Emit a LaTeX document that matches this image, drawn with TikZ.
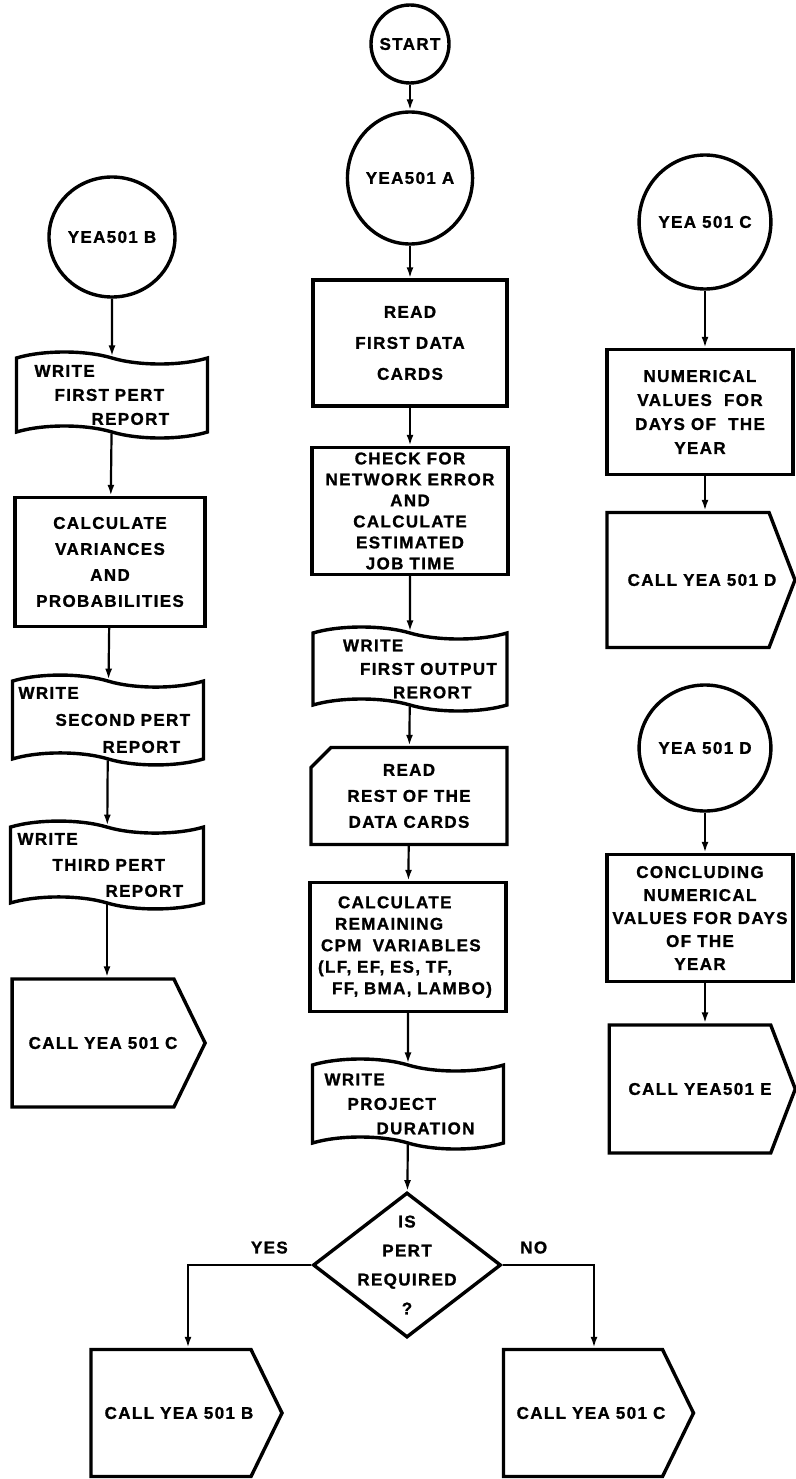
\documentclass[tikz,border=0pt]{standalone}
\usepackage{fontspec}
\setmainfont{Liberation Sans}[LetterSpace=8, BoldFeatures={FakeBold=1.2}]
\usetikzlibrary{arrows.meta,shapes.geometric,shapes.symbols,shapes.misc}
\tikzset{
  lines/.style={font=\fontsize{17}{#1}\selectfont\bfseries},
  shp/.style={draw, line width=3.4pt, inner sep=0pt, lines=26, align=center},
  term/.style={shp, ellipse},
  proc/.style={shp, rectangle},
  card/.style={shp, chamfered rectangle, chamfered rectangle corners=north west,
               chamfered rectangle xsep=9pt, chamfered rectangle ysep=11pt},
  ptape/.style={shp, tape, tape bend top=out and in, tape bend bottom=out and in,
                tape bend height=12pt, align=left},
  callbox/.style={shp, signal, signal to=east, signal pointer angle=128},
  calllbl/.style={lines=20},
  decision/.style={shp, diamond},
  flow/.style={line width=2.2pt, -{Latex[length=11pt,width=7pt]}},
  answer/.style={lines=20, above=7pt},
}
\begin{document}
\begin{tikzpicture}[x=1pt, y=-1pt]
  \useasboundingbox (0,0) rectangle (795,1479);
  \node[term, minimum size=78pt] (start) at (410,44) {\makebox[30pt]{START}};
  \node[term, minimum width=124pt, minimum height=132pt] (yeaA) at (410,178) {YEA501 A};
  \node[proc, minimum width=194pt, minimum height=126pt, lines=31] (read1) at (410,343)
    {READ\\FIRST DATA\\CARDS};
  \node[proc, minimum width=196pt, minimum height=127pt, lines=21] (check) at (410,511)
    {CHECK FOR\\NETWORK ERROR\\AND\\CALCULATE\\ESTIMATED\\JOB TIME};
  \node[ptape, minimum width=194pt, minimum height=84pt, text width=184pt, lines=23.5] (wrout) at (410,669)
    {\hspace*{25pt}WRITE\\\hspace*{42pt}FIRST OUTPUT\\\hspace*{75pt}RERORT};
  \node[card, minimum width=196pt, minimum height=97pt] (readrest) at (409,796)
    {READ\\REST OF THE\\DATA CARDS};
  \node[proc, minimum width=196pt, minimum height=129pt, text width=186pt, align=left, lines=21.5] (cpm) at (408,947)
    {\hspace*{23pt}CALCULATE\\\hspace*{20pt}REMAINING\\\hspace*{6pt}CPM\ \ VARIABLES\\
     \hspace*{3pt}(LF,\ EF,\ ES,\ TF,\\\hspace*{17pt}FF,\ BMA,\ LAMBO)};
  \node[ptape, minimum width=191pt, minimum height=90pt, text width=181pt, lines=24.5] (wrproj) at (408,1104)
    {\hspace*{7pt}WRITE\\\hspace*{30pt}PROJECT\\\hspace*{59pt}DURATION};
  \node[decision, minimum width=188pt, minimum height=145pt,
        label={[lines=29, align=center]center:IS\\PERT\\REQUIRED\\?}] (pert) at (407,1265) {};
  \node[callbox, minimum width=191pt, minimum height=127pt,
        label={[calllbl, xshift=8pt]center:CALL YEA 501 B}] (callB) at (171,1413) {};
  \node[callbox, minimum width=190pt, minimum height=127pt,
        label={[calllbl, xshift=8pt]center:CALL YEA 501 C}] (callC2) at (583,1413) {};

  \node[term, minimum width=126pt, minimum height=120pt] (yeaB) at (112,237) {YEA501 B};
  \node[ptape, minimum width=191pt, minimum height=86pt, text width=181pt, lines=24] (wr1) at (112,395)
    {\hspace*{13pt}WRITE\\\hspace*{33pt}FIRST PERT\\\hspace*{70pt}REPORT};
  \node[proc, minimum width=190pt, minimum height=129pt] (calcvar) at (110,562)
    {CALCULATE\\VARIANCES\\AND\\PROBABILITIES};
  \node[ptape, minimum width=191pt, minimum height=89pt, text width=181pt, lines=27] (wr2) at (108,720)
    {\hspace*{1pt}WRITE\\\hspace*{38pt}SECOND PERT\\\hspace*{85pt}REPORT};
  \node[ptape, minimum width=193pt, minimum height=87pt, text width=183pt, lines=26] (wr3) at (107,865)
    {\hspace*{2pt}WRITE\\\hspace*{37pt}THIRD PERT\\\hspace*{90pt}REPORT};
  \node[callbox, minimum width=193pt, minimum height=128pt,
        label={[calllbl, xshift=10pt]center:CALL YEA 501 C}] (callC1) at (93,1043) {};

  \node[term, minimum width=128pt, minimum height=134pt] (yeaC) at (705,222) {YEA 501 C};
  \node[proc, minimum width=186pt, minimum height=125pt, lines=24] (numval) at (700,412)
    {NUMERICAL\\VALUES\ \ FOR\\DAYS OF\ \ THE\\YEAR};
  \node[callbox, signal pointer angle=138, minimum width=188pt, minimum height=135pt,
        label={[calllbl, xshift=14pt]center:CALL YEA 501 D}] (callD) at (688,580) {};
  \node[term, minimum width=128pt, minimum height=126pt] (yeaD) at (705,748) {YEA 501 D};
  \node[proc, minimum width=186pt, minimum height=127pt, lines=23] (concl) at (700,918)
    {CONCLUDING\\NUMERICAL\\VALUES FOR DAYS\\OF THE\\YEAR};
  \node[callbox, signal pointer angle=138, minimum width=186pt, minimum height=128pt,
        label={[calllbl, xshift=10pt]center:CALL YEA501 E}] (callE) at (690,1089) {};

  \draw[flow] (start) -- (yeaA);
  \draw[flow] (yeaA) -- (read1);
  \draw[flow] (read1) -- (check);
  \draw[flow] (check) -- (wrout);
  \draw[flow] (wrout) -- (readrest);
  \draw[flow] (readrest) -- (cpm);
  \draw[flow] (cpm) -- (wrproj);
  \draw[flow] (wrproj) -- (pert);
  \draw[flow] (pert.west) -| node[answer, pos=0.17] (yes) {YES} ([xshift=17pt]callB.north);
  \draw[flow] (pert.east) -| node[answer, pos=0.17] (no) {NO} ([xshift=11pt]callC2.north);
  \draw[flow] (yeaB) -- (wr1);
  \draw[flow] (wr1) -- (calcvar);
  \draw[flow] (calcvar) -- (wr2);
  \draw[flow] (wr2) -- (wr3);
  \draw[flow] (wr3.south) -- (wr3.south |- callC1.north);
  \draw[flow] (yeaC) -- (yeaC |- numval.north);
  \draw[flow] (numval.south -| yeaC) -- (yeaC |- callD.north);
  \draw[flow] (yeaD) -- (yeaD |- concl.north);
  \draw[flow] (concl.south -| yeaD) -- (yeaD |- callE.north);
\end{tikzpicture}
\end{document}
